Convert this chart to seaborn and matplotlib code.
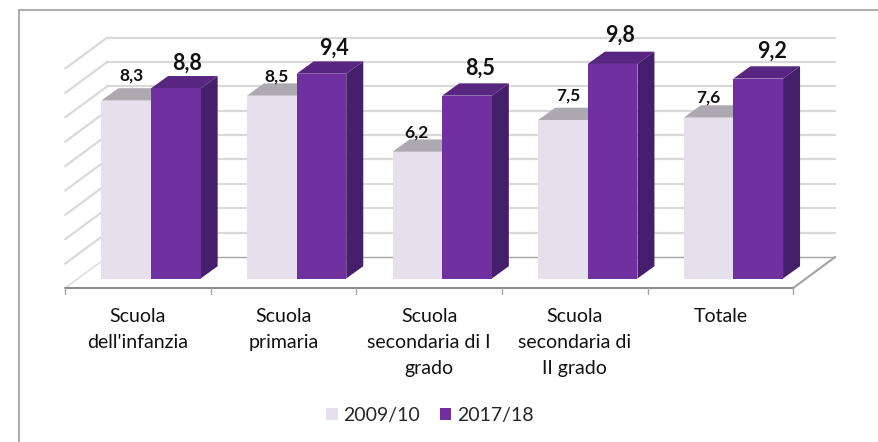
import matplotlib
matplotlib.use('Agg')
import matplotlib.pyplot as plt
from matplotlib.lines import Line2D
import pandas as pd
import seaborn as sns

categories = ["Scuola\ndell'infanzia", "Scuola\nprimaria", "Scuola\nsecondaria di I\ngrado", "Scuola\nsecondaria di\nII grado", "Totale"]
values_2009 = [8.3, 8.5, 6.2, 7.5, 7.6]
values_2017 = [8.8, 9.4, 8.5, 9.8, 9.2]
text_2009 = ['8,3', '8,5', '6,2', '7,5', '7,6']
text_2017 = ['8,8', '9,4', '8,5', '9,8', '9,2']
series = ['2009/10', '2017/18']
grid_values = [1, 2, 3, 4, 5, 6, 7, 8, 9, 10]

# pixel scale of the axes, used to turn the fake 3d depth into data units
PX_X = 145.6
PX_Y = 24.38
LEFT, BASE = 78.2, 278.5

df = pd.DataFrame({'scuola': categories * 2,
                   'valore': values_2009 + values_2017,
                   'anno': [series[0]] * 5 + [series[1]] * 5})

sns.set_style('white')
plt.rcParams['font.family'] = ['Lato', 'DejaVu Sans']

fig = plt.figure(figsize=(8.79, 4.42), dpi=100)
ax = fig.add_axes([LEFT / 879, (442 - BASE) / 442, PX_X * 5 / 879, PX_Y * 9.5 / 442])

sns.barplot(data=df, x='scuola', y='valore', hue='anno', palette=['#E6E0EC', '#7030A0'],
            width=0.682, gap=0, saturation=1, linewidth=0, ax=ax)
ax.set_xlim(-0.5, 4.5)
ax.set_ylim(1, 10.5)
ax.set_xlabel('')
ax.set_ylabel('')
ax.set_yticks([])
sns.despine(ax=ax, left=True, bottom=True)

# front and back planes of the chart box, relative to the bar plane
fx, fy = -13 / PX_X, -9.5 / PX_Y
bx, by = 29 / PX_X, 21.5 / PX_Y
xa, xb = -0.5, 4.5

for v in grid_values:
    col = '#A6A6A6' if v == 1 else '#D9D9D9'
    lw = 1.0 if v == 1 else 1.6
    ax.plot([xa + bx, xb + bx], [v + by, v + by], color=col, lw=lw, zorder=0.5, clip_on=False)
    ax.plot([xa + fx, xa + bx], [v + fy, v + by], color='#D9D9D9', lw=lw, zorder=0.5, clip_on=False)

# floor edges and tick marks
ax.plot([xb + fx, xb + bx], [1 + fy, 1 + by], color='#A6A6A6', lw=1.6, zorder=0.6, clip_on=False)
ax.plot([xa + fx, xb + fx], [1 + fy, 1 + fy], color='#8C8C8C', lw=1.5, zorder=0.6, clip_on=False)
for k in range(6):
    ax.plot([xa + fx + k, xa + fx + k], [1 + fy, 1 + fy - 6 / PX_Y], color='#A6A6A6', lw=1.0, zorder=0.6, clip_on=False)

ax.set_xticks([i + fx for i in range(5)], categories)
ax.tick_params(axis='x', length=0, pad=21.5, labelsize=14)
for lab in ax.get_xticklabels():
    lab.set_linespacing(1.62)
    lab.set_color('#111111')

# depth of the bars: top and side faces
dx, dy = 17 / PX_X, 12.3 / PX_Y
top_cols = ['#ADA9B0', '#572680']
side_cols = ['#B4ADBD', '#451F6B']
for cont, top_col, side_col in zip(ax.containers, top_cols, side_cols):
    for bar in cont:
        x0 = bar.get_x()
        x1 = x0 + bar.get_width()
        h = bar.get_height()
        ax.fill([x0, x1, x1 + dx, x0 + dx], [h, h, h + dy, h + dy], color=top_col, lw=0, zorder=0.9, clip_on=False)
        ax.fill([x1, x1 + dx, x1 + dx, x1], [1, 1 + dy, h + dy, h], color=side_col, lw=0, zorder=0.9, clip_on=False)

# data labels sit by hand around the bars, as in the original
small_off = [(5, 25), (5, 19), (-1, 19), (5, 25), (0, 20)]
big_off = [(11, 25), (13, 26), (13, 27), (7, 29), (14, 27)]
for cont, texts, offs, size in [(ax.containers[0], text_2009, small_off, 12.5),
                                (ax.containers[1], text_2017, big_off, 15.5)]:
    for bar, txt, off in zip(cont, texts, offs):
        ax.annotate(txt, (bar.get_x() + bar.get_width() / 2, bar.get_height()), xytext=off,
                    textcoords='offset pixels', ha='center', va='center', fontsize=size,
                    fontweight='bold', color='#111111', zorder=5, annotation_clip=False)

handles, labels = ax.get_legend_handles_labels()
ax.legend(handles, labels, ncol=2, frameon=False, fontsize=14, loc='center',
          bbox_to_anchor=(430 / 879, 1 - 415.5 / 442), bbox_transform=fig.transFigure,
          handlelength=0.6, handleheight=0.6, handletextpad=0.3, columnspacing=1.0)

# chart border, only top and left fall inside the picture
fig.add_artist(Line2D([19.5 / 879, 19.5 / 879], [0, 1 - 9.5 / 442], color='#969696', lw=1.1))
fig.add_artist(Line2D([19.5 / 879, 1], [1 - 9.5 / 442, 1 - 9.5 / 442], color='#969696', lw=1.1))

fig.savefig('out.png', dpi=100)
